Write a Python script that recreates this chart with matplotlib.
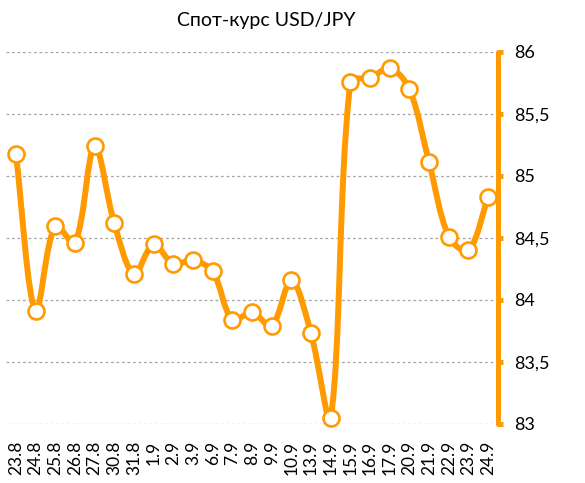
import matplotlib
matplotlib.use("Agg")
from matplotlib import pyplot as plt
from matplotlib.path import Path
from matplotlib.patches import PathPatch
from matplotlib.ticker import FuncFormatter, MultipleLocator
import numpy as np

plt.rcParams['font.family'] = ['Lato', 'DejaVu Sans']

dates = ["23.8", "24.8", "25.8", "26.8", "27.8", "30.8", "31.8", "1.9", "2.9",
         "3.9", "6.9", "7.9", "8.9", "9.9", "10.9", "13.9", "14.9", "15.9",
         "16.9", "17.9", "20.9", "21.9", "22.9", "23.9", "24.9"]
usd_jpy = [85.18, 83.91, 84.60, 84.46, 85.24, 84.62, 84.21, 84.45, 84.29,
           84.32, 84.23, 83.84, 83.90, 83.79, 84.16, 83.73, 83.05, 85.76,
           85.79, 85.87, 85.70, 85.11, 84.51, 84.40, 84.83]

ORANGE = "#FF9A00"


def smooth_path(xs, ys, sx, sy, t=1 / 3):
    # bezier through every point, control arms weighted by the
    # on-screen length of the neighbouring segments
    pts = np.column_stack([xs, ys])
    scr = pts * [sx, sy]
    n = len(pts)
    out_arm = np.zeros_like(pts)
    in_arm = np.zeros_like(pts)
    for i in range(n):
        a = pts[max(i - 1, 0)]
        b = pts[min(i + 1, n - 1)]
        d0 = np.hypot(*(scr[i] - scr[max(i - 1, 0)]))
        d1 = np.hypot(*(scr[min(i + 1, n - 1)] - scr[i]))
        tot = d0 + d1
        out_arm[i] = (b - a) * t * d1 / tot
        in_arm[i] = (b - a) * t * d0 / tot
    verts = [pts[0]]
    codes = [Path.MOVETO]
    for i in range(n - 1):
        verts += [pts[i] + out_arm[i], pts[i + 1] - in_arm[i + 1], pts[i + 1]]
        codes += [Path.CURVE4] * 3
    return Path(verts, codes)


fig = plt.figure(figsize=(5.85, 4.83), dpi=100)
ax = fig.add_axes([6 / 585, 1 - 424 / 483, 492 / 585, 372 / 483])

ax.set_xlim(-0.5, len(dates) - 0.5)
ax.set_ylim(83, 86)

x = np.arange(len(dates))
px_x = 492 / len(dates)
px_y = 372 / 3
curve = PathPatch(smooth_path(x, usd_jpy, px_x, px_y), fill=False,
                  edgecolor=ORANGE, lw=4.3, capstyle="round",
                  joinstyle="round", zorder=3, clip_on=False)
ax.add_patch(curve)
ax.plot(x, usd_jpy, "o", color=ORANGE, markerfacecolor="white",
        markersize=11.5, markeredgewidth=1.9, zorder=4, clip_on=False)

ax.yaxis.set_major_locator(MultipleLocator(0.5))
ax.yaxis.set_major_formatter(FuncFormatter(lambda v, p: f"{v:g}".replace(".", ",")))
ax.yaxis.tick_right()
ax.grid(axis="y", color="#a6a6a6", linestyle=(0, (2.2, 2.2)), lw=0.9)
ax.set_axisbelow(True)

for side in ("left", "top", "bottom"):
    ax.spines[side].set_visible(False)
ax.spines["right"].set_color(ORANGE)
ax.spines["right"].set_linewidth(3.6)
ax.spines["right"].set_capstyle("round")

ax.tick_params(axis="y", colors=ORANGE, length=3.5, width=3.6, pad=8,
               labelcolor="black", labelsize=13)
ax.set_xticks(x)
ax.set_xticklabels(dates, rotation=90, va="top", fontsize=12.5)
ax.tick_params(axis="x", length=0, pad=12)

fig.text(0.455, 0.957, "Спот-курс USD/JPY", ha="center", va="center",
         fontsize=14)

plt.savefig("out.png", dpi=100)
